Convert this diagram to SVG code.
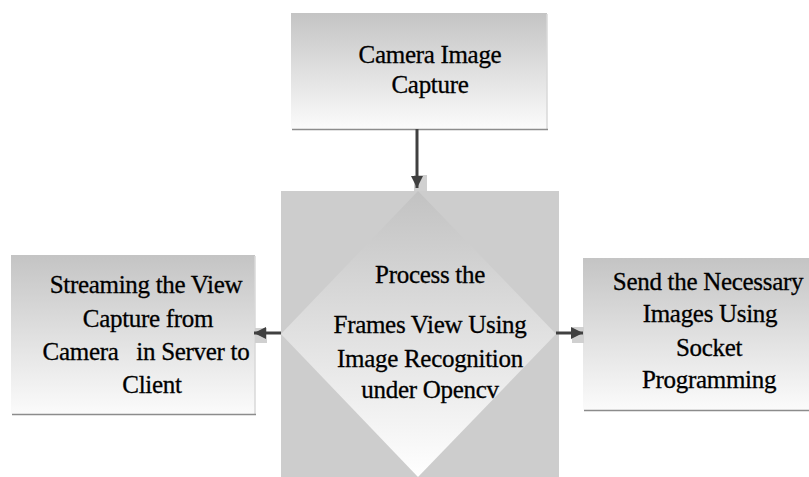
<svg xmlns="http://www.w3.org/2000/svg" width="809" height="477" viewBox="0 0 809 477">
<defs>
<linearGradient id="boxGrad" x1="0" y1="0" x2="0" y2="1">
<stop offset="0" stop-color="#c4c4c4"/>
<stop offset="1" stop-color="#fbfbfb"/>
</linearGradient>
<linearGradient id="diaGrad" x1="0" y1="0" x2="0" y2="1">
<stop offset="0" stop-color="#c2c2c2"/>
<stop offset="1" stop-color="#ffffff"/>
</linearGradient>
<marker id="arrow" markerWidth="4" markerHeight="4" refX="4" refY="2" orient="auto" markerUnits="strokeWidth">
<path d="M0,0 L4,2 L0,4 Z" fill="#404040"/>
</marker>
<style>
.box{fill:url(#boxGrad);}
.shadow{fill:none;stroke:#8c8c8c;stroke-width:1.5;}
.shadowR{fill:none;stroke:#d8d8d8;stroke-width:1.5;}
.lbl{font-family:'Liberation Serif',serif;font-size:25px;letter-spacing:-0.3px;fill:#000;stroke:#000;stroke-width:0.3px;text-anchor:middle;}
.conn{stroke:#404040;stroke-width:3;fill:none;marker-end:url(#arrow);}
.port{fill:#d0d0d0;}
</style>
</defs>
<rect width="809" height="477" fill="#ffffff"/>

<g id="node-camera">
<rect class="box" x="291" y="13" width="256" height="116"/>
<path class="shadowR" d="M547,14 V129"/>
<path class="shadow" d="M292,129.5 H548"/>
<text class="lbl" x="430" y="63">Camera Image</text>
<text class="lbl" x="430" y="93">Capture</text>
</g>

<g id="node-process">
<rect x="281" y="191" width="278" height="286" fill="#cdcdcd"/>
<polygon points="418,191 556,334 418,477 281,334" fill="url(#diaGrad)"/>
<text class="lbl" x="430" y="283">Process the</text>
<text class="lbl" x="430" y="333">Frames View Using</text>
<text class="lbl" x="430" y="367">Image Recognition</text>
<text class="lbl" x="430" y="398">under Opencv</text>
</g>

<g id="node-streaming">
<rect class="box" x="11" y="255" width="244" height="159"/>
<path class="shadowR" d="M255,256 V414"/>
<path class="shadow" d="M12,414.5 H256"/>
<text class="lbl" x="146" y="293">Streaming the View</text>
<text class="lbl" x="148" y="327">Capture from</text>
<text class="lbl" x="146" y="360" xml:space="preserve">Camera   in Server to</text>
<text class="lbl" x="152" y="393">Client</text>
</g>

<g id="node-send">
<rect class="box" x="583" y="258" width="226" height="152"/>
<path class="shadow" d="M584,410.5 H809"/>
<text class="lbl" x="708" y="290">Send the Necessary</text>
<text class="lbl" x="710" y="322">Images Using</text>
<text class="lbl" x="709" y="356">Socket</text>
<text class="lbl" x="709" y="388">Programming</text>
</g>

<g id="connectors">
<rect class="port" x="414" y="175" width="13" height="16"/>
<rect class="port" x="255" y="328" width="12" height="15"/>
<rect class="port" x="572" y="327" width="12" height="16"/>
<path class="conn" d="M417,129 V188"/>
<path class="conn" d="M281,333 H254"/>
<path class="conn" d="M556,333 H583"/>
</g>
</svg>
